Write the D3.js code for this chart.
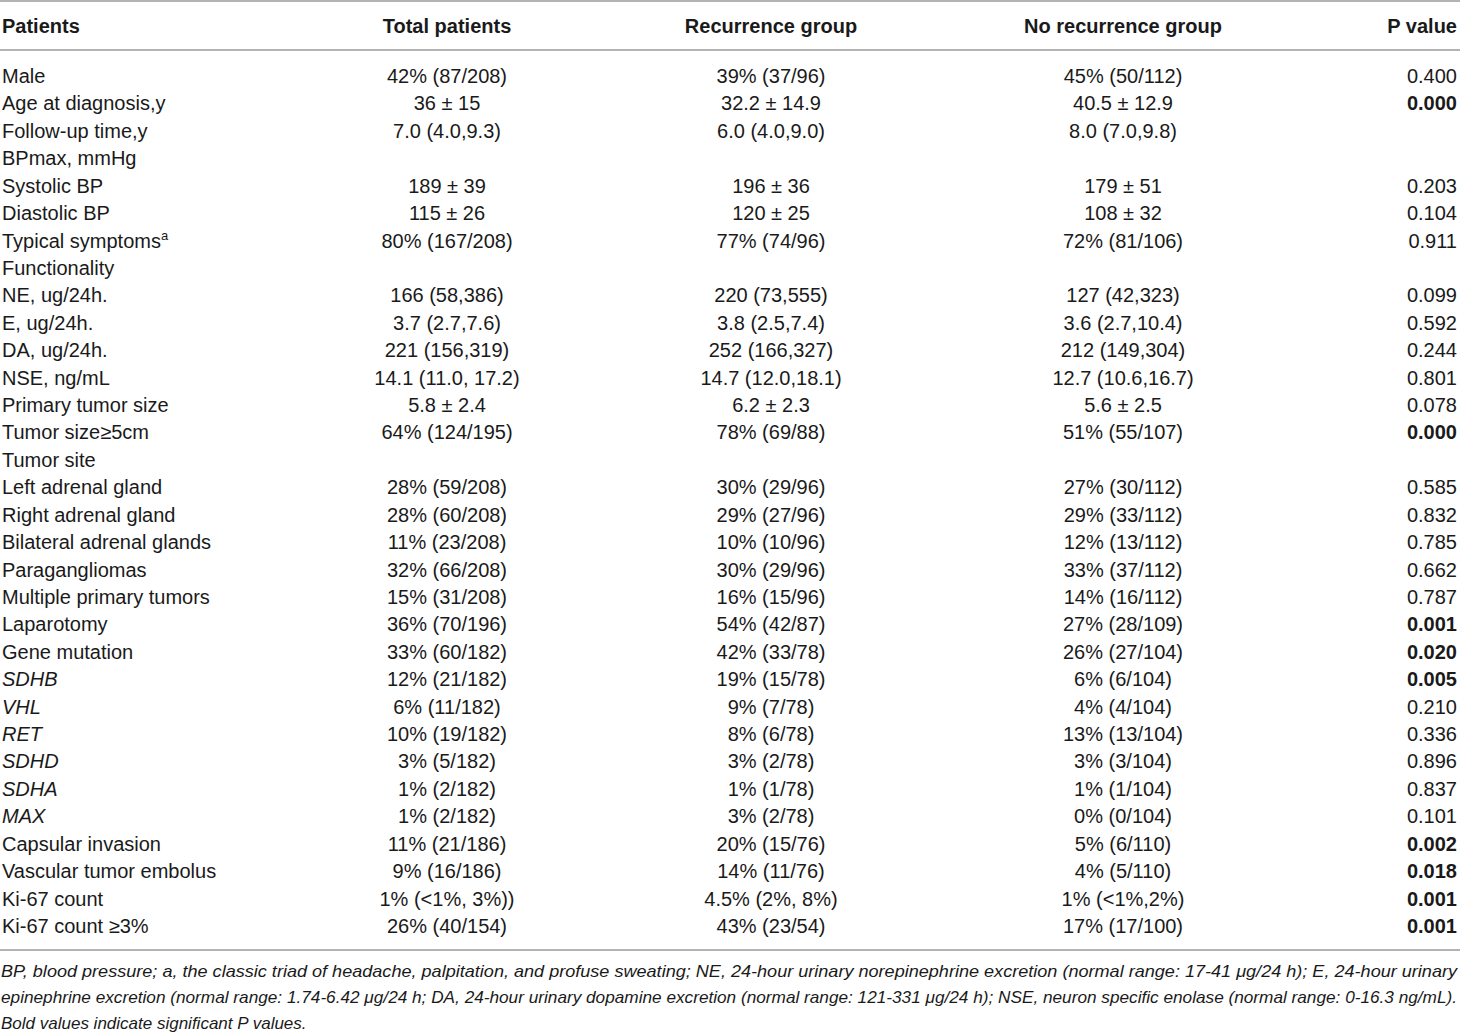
<!DOCTYPE html>
<html>
<head>
<meta charset="utf-8">
<script src="https://cdn.jsdelivr.net/npm/d3@7"></script>
<style>
  body { margin: 0; background: #fff; }
  svg { display: block; font-family: "Liberation Sans", Arial, sans-serif; }
</style>
</head>
<body>
<svg id="tbl" width="1460" height="1033"></svg>
<script>
// Data
var headers = ["Patients", "Total patients", "Recurrence group", "No recurrence group", "P value"];

var rowLabels = ["Male", "Age at diagnosis,y", "Follow-up time,y", "BPmax, mmHg", "Systolic BP", "Diastolic BP",
    "Typical symptoms", "Functionality", "NE, ug/24h.", "E, ug/24h.", "DA, ug/24h.", "NSE, ng/mL",
    "Primary tumor size", "Tumor size\u22655cm", "Tumor site", "Left adrenal gland", "Right adrenal gland",
    "Bilateral adrenal glands", "Paragangliomas", "Multiple primary tumors", "Laparotomy", "Gene mutation",
    "SDHB", "VHL", "RET", "SDHD", "SDHA", "MAX", "Capsular invasion", "Vascular tumor embolus",
    "Ki-67 count", "Ki-67 count \u22653%"];

var totalPatients = ["42% (87/208)", "36 \u00b1 15", "7.0 (4.0,9.3)", "", "189 \u00b1 39", "115 \u00b1 26",
    "80% (167/208)", "", "166 (58,386)", "3.7 (2.7,7.6)", "221 (156,319)", "14.1 (11.0, 17.2)",
    "5.8 \u00b1 2.4", "64% (124/195)", "", "28% (59/208)", "28% (60/208)", "11% (23/208)", "32% (66/208)",
    "15% (31/208)", "36% (70/196)", "33% (60/182)", "12% (21/182)", "6% (11/182)", "10% (19/182)",
    "3% (5/182)", "1% (2/182)", "1% (2/182)", "11% (21/186)", "9% (16/186)", "1% (<1%, 3%))", "26% (40/154)"];

var recurrenceGroup = ["39% (37/96)", "32.2 \u00b1 14.9", "6.0 (4.0,9.0)", "", "196 \u00b1 36", "120 \u00b1 25",
    "77% (74/96)", "", "220 (73,555)", "3.8 (2.5,7.4)", "252 (166,327)", "14.7 (12.0,18.1)",
    "6.2 \u00b1 2.3", "78% (69/88)", "", "30% (29/96)", "29% (27/96)", "10% (10/96)", "30% (29/96)",
    "16% (15/96)", "54% (42/87)", "42% (33/78)", "19% (15/78)", "9% (7/78)", "8% (6/78)",
    "3% (2/78)", "1% (1/78)", "3% (2/78)", "20% (15/76)", "14% (11/76)", "4.5% (2%, 8%)", "43% (23/54)"];

var noRecurrenceGroup = ["45% (50/112)", "40.5 \u00b1 12.9", "8.0 (7.0,9.8)", "", "179 \u00b1 51", "108 \u00b1 32",
    "72% (81/106)", "", "127 (42,323)", "3.6 (2.7,10.4)", "212 (149,304)", "12.7 (10.6,16.7)",
    "5.6 \u00b1 2.5", "51% (55/107)", "", "27% (30/112)", "29% (33/112)", "12% (13/112)", "33% (37/112)",
    "14% (16/112)", "27% (28/109)", "26% (27/104)", "6% (6/104)", "4% (4/104)", "13% (13/104)",
    "3% (3/104)", "1% (1/104)", "0% (0/104)", "5% (6/110)", "4% (5/110)", "1% (<1%,2%)", "17% (17/100)"];

var pValues = ["0.400", "0.000", "", "", "0.203", "0.104", "0.911", "", "0.099", "0.592", "0.244", "0.801",
    "0.078", "0.000", "", "0.585", "0.832", "0.785", "0.662", "0.787", "0.001", "0.020", "0.005", "0.210",
    "0.336", "0.896", "0.837", "0.101", "0.002", "0.018", "0.001", "0.001"];

var significant = ["0.000", "0.001", "0.020", "0.005", "0.002", "0.018"];
var italicLabels = ["SDHB", "VHL", "RET", "SDHD", "SDHA", "MAX"];
var superLabels = { "Typical symptoms": "a" };

var footLines = [
    "BP, blood pressure; a, the classic triad of headache, palpitation, and profuse sweating; NE, 24-hour urinary norepinephrine excretion (normal range: 17-41 \u03bcg/24 h); E, 24-hour urinary",
    "epinephrine excretion (normal range: 1.74-6.42 \u03bcg/24 h; DA, 24-hour urinary dopamine excretion (normal range: 121-331 \u03bcg/24 h); NSE, neuron specific enolase (normal range: 0-16.3 ng/mL).",
    "Bold values indicate significant P values."
];

// Layout
var width = 1460;
var fontSize = 20;
var textColor = "#1a1a1a";
var lineColor = "#9a9a9a";

var svg = d3.select("#tbl");

var colX = [2, 447, 771, 1123, 1457];
var colAnchor = ["start", "middle", "middle", "middle", "end"];

var yRow = d3.scalePoint()
    .domain(d3.range(rowLabels.length))
    .range([83, 933]);

// Rules
[1, 50, 950].forEach(function(y){
    svg.append("line")
        .attr("x1", 0).attr("x2", width)
        .attr("y1", y).attr("y2", y)
        .attr("stroke", lineColor)
        .attr("stroke-width", 1.6);
});

// Header
svg.selectAll("text.hdr")
    .data(headers)
    .join("text")
    .attr("class", "hdr")
    .attr("x", function(d, i){ return colX[i]; })
    .attr("y", 33)
    .attr("text-anchor", function(d, i){ return colAnchor[i]; })
    .attr("font-size", fontSize)
    .attr("font-weight", "bold")
    .attr("fill", textColor)
    .text(function(d){ return d; });

// Body
var columns = [rowLabels, totalPatients, recurrenceGroup, noRecurrenceGroup, pValues];

columns.forEach(function(col, ci){
    var g = svg.append("g");
    var t = g.selectAll("text")
        .data(col)
        .join("text")
        .attr("x", colX[ci])
        .attr("y", function(d, i){ return yRow(i); })
        .attr("text-anchor", colAnchor[ci])
        .attr("font-size", fontSize)
        .attr("fill", textColor)
        .attr("font-style", function(d){ return ci === 0 && italicLabels.indexOf(d) >= 0 ? "italic" : null; })
        .attr("font-weight", function(d){ return ci === 4 && significant.indexOf(d) >= 0 ? "bold" : null; })
        .text(function(d){ return d; });

    if (ci === 0){
        t.filter(function(d){ return superLabels[d]; })
            .append("tspan")
            .attr("dy", -8)
            .attr("font-size", 13)
            .text(function(d){ return superLabels[d]; });
    }
});

// Footnote
svg.selectAll("text.foot")
    .data(footLines)
    .join("text")
    .attr("class", "foot")
    .attr("x", 1)
    .attr("y", function(d, i){ return 977 + i * 26; })
    .attr("font-size", 17)
    .attr("font-style", "italic")
    .attr("fill", textColor)
    .attr("textLength", function(d, i){ return i < 2 ? 1456 : null; })
    .attr("lengthAdjust", "spacingAndGlyphs")
    .text(function(d){ return d; });
</script>
</body>
</html>
